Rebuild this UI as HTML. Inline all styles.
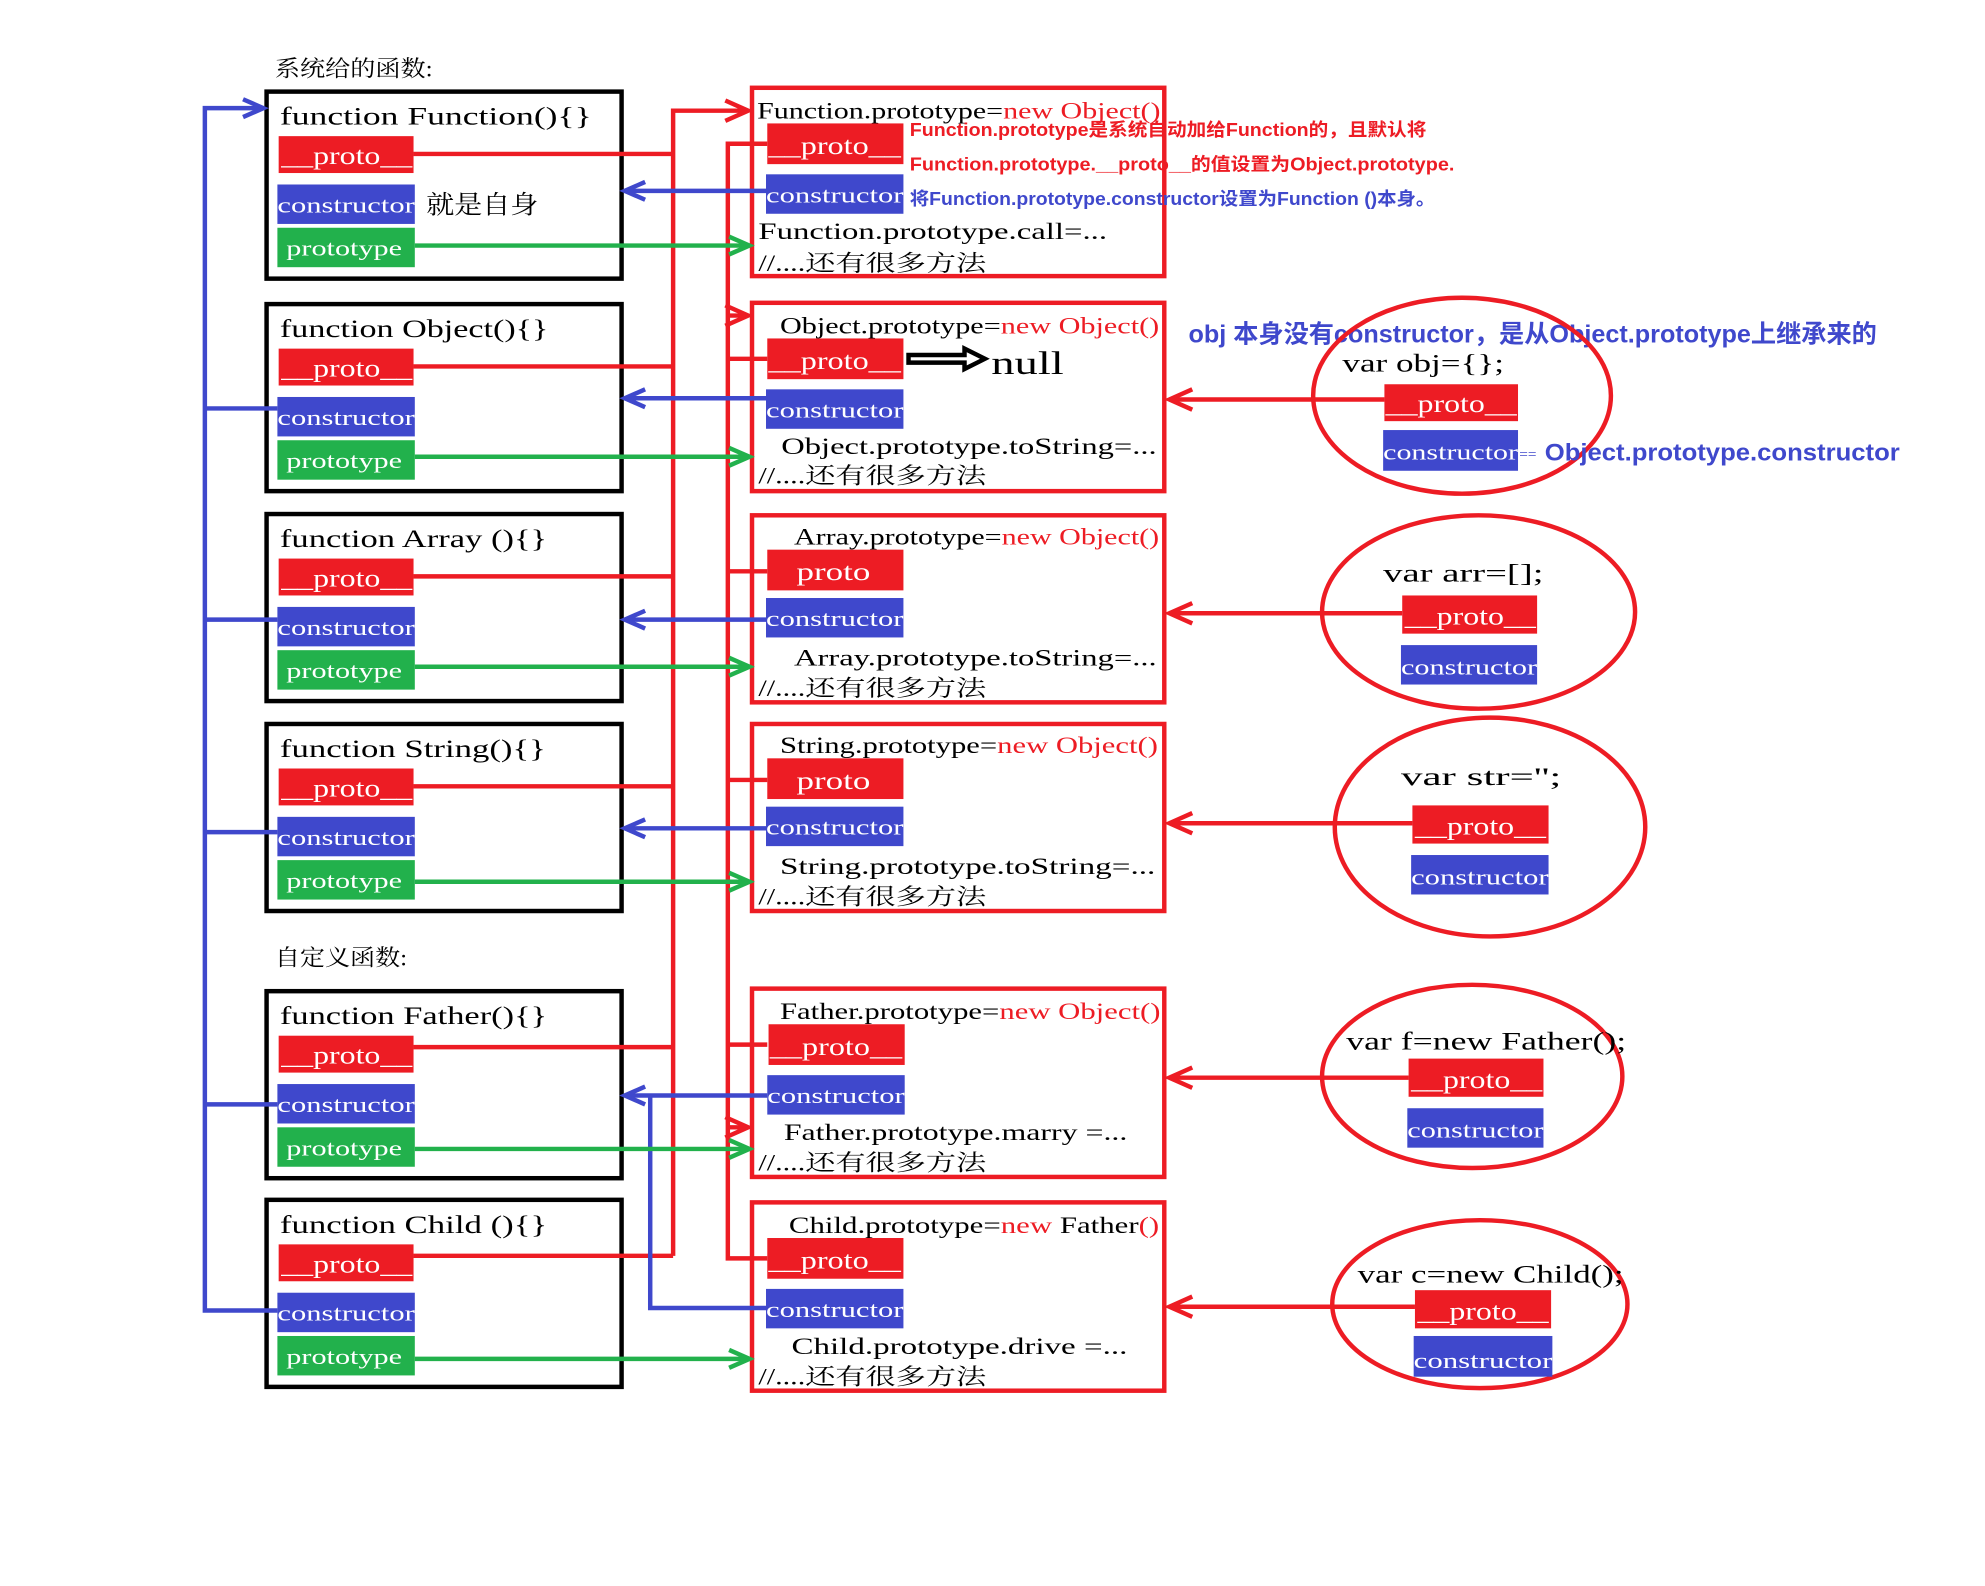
<!DOCTYPE html>
<html><head><meta charset="utf-8"><style>
html,body{margin:0;padding:0;background:#fff;width:1985px;height:1586px;overflow:hidden}
svg{display:block}
text{font-family:"Liberation Serif","Noto Serif CJK SC",serif;}
.t{font-size:20px;fill:#000}
.r{font-size:18px;fill:#000}
.w{fill:#fff;font-size:20px}
.ws{fill:#fff;font-size:17px}
.ann{font-family:"Liberation Sans","Noto Sans CJK SC",sans-serif;font-weight:bold}
</style></head><body>
<svg width="1985" height="1586" viewBox="0 0 1560 1246.5" preserveAspectRatio="none" xmlns="http://www.w3.org/2000/svg">
<defs>
<marker id="ar" markerUnits="userSpaceOnUse" markerWidth="24" markerHeight="20" refX="20" refY="10" orient="auto"><path d="M2,2 L20,10 L2,18" fill="none" stroke="#ed1c24" stroke-width="3.5"/></marker>
<marker id="ab" markerUnits="userSpaceOnUse" markerWidth="24" markerHeight="20" refX="20" refY="10" orient="auto"><path d="M4,3 L20,10 L4,17" fill="none" stroke="#3f48cc" stroke-width="3.5"/></marker>
<marker id="ag" markerUnits="userSpaceOnUse" markerWidth="24" markerHeight="20" refX="20" refY="10" orient="auto"><path d="M4,3 L20,10 L4,17" fill="none" stroke="#22b14c" stroke-width="3.5"/></marker>
</defs>

<text x="216" y="60" style="font-size:18px" textLength="124" lengthAdjust="spacingAndGlyphs">系统给的函数:</text>
<text x="216" y="759" style="font-size:18px" textLength="104" lengthAdjust="spacingAndGlyphs">自定义函数:</text>

<!-- left boxes -->
<g transform="translate(0,72)"><rect x="209.5" y="0" width="279" height="147" fill="none" stroke="#000" stroke-width="3.5"/><text class="t" x="220" y="26" textLength="245" lengthAdjust="spacingAndGlyphs">function Function(){}</text><rect x="219" y="35" width="106" height="29" fill="#ed1c24"/><text class="w" x="221" y="57" textLength="103" lengthAdjust="spacingAndGlyphs">__proto__</text><rect x="218" y="73" width="108" height="31" fill="#3f48cc"/><text class="ws" x="218" y="95" textLength="108" lengthAdjust="spacingAndGlyphs">constructor</text><rect x="218" y="107" width="108" height="31" fill="#22b14c"/><text class="ws" x="225" y="129" textLength="91" lengthAdjust="spacingAndGlyphs">prototype</text><text class="t" x="335" y="96" textLength="88" lengthAdjust="spacingAndGlyphs">就是自身</text></g>
<g transform="translate(0,239)"><rect x="209.5" y="0" width="279" height="147" fill="none" stroke="#000" stroke-width="3.5"/><text class="t" x="220" y="26" textLength="211" lengthAdjust="spacingAndGlyphs">function Object(){}</text><rect x="219" y="35" width="106" height="29" fill="#ed1c24"/><text class="w" x="221" y="57" textLength="103" lengthAdjust="spacingAndGlyphs">__proto__</text><rect x="218" y="73" width="108" height="31" fill="#3f48cc"/><text class="ws" x="218" y="95" textLength="108" lengthAdjust="spacingAndGlyphs">constructor</text><rect x="218" y="107" width="108" height="31" fill="#22b14c"/><text class="ws" x="225" y="129" textLength="91" lengthAdjust="spacingAndGlyphs">prototype</text></g>
<g transform="translate(0,404)"><rect x="209.5" y="0" width="279" height="147" fill="none" stroke="#000" stroke-width="3.5"/><text class="t" x="220" y="26" textLength="210" lengthAdjust="spacingAndGlyphs">function Array (){}</text><rect x="219" y="35" width="106" height="29" fill="#ed1c24"/><text class="w" x="221" y="57" textLength="103" lengthAdjust="spacingAndGlyphs">__proto__</text><rect x="218" y="73" width="108" height="31" fill="#3f48cc"/><text class="ws" x="218" y="95" textLength="108" lengthAdjust="spacingAndGlyphs">constructor</text><rect x="218" y="107" width="108" height="31" fill="#22b14c"/><text class="ws" x="225" y="129" textLength="91" lengthAdjust="spacingAndGlyphs">prototype</text></g>
<g transform="translate(0,569)"><rect x="209.5" y="0" width="279" height="147" fill="none" stroke="#000" stroke-width="3.5"/><text class="t" x="220" y="26" textLength="209" lengthAdjust="spacingAndGlyphs">function String(){}</text><rect x="219" y="35" width="106" height="29" fill="#ed1c24"/><text class="w" x="221" y="57" textLength="103" lengthAdjust="spacingAndGlyphs">__proto__</text><rect x="218" y="73" width="108" height="31" fill="#3f48cc"/><text class="ws" x="218" y="95" textLength="108" lengthAdjust="spacingAndGlyphs">constructor</text><rect x="218" y="107" width="108" height="31" fill="#22b14c"/><text class="ws" x="225" y="129" textLength="91" lengthAdjust="spacingAndGlyphs">prototype</text></g>
<g transform="translate(0,779)"><rect x="209.5" y="0" width="279" height="147" fill="none" stroke="#000" stroke-width="3.5"/><text class="t" x="220" y="26" textLength="210" lengthAdjust="spacingAndGlyphs">function Father(){}</text><rect x="219" y="35" width="106" height="29" fill="#ed1c24"/><text class="w" x="221" y="57" textLength="103" lengthAdjust="spacingAndGlyphs">__proto__</text><rect x="218" y="73" width="108" height="31" fill="#3f48cc"/><text class="ws" x="218" y="95" textLength="108" lengthAdjust="spacingAndGlyphs">constructor</text><rect x="218" y="107" width="108" height="31" fill="#22b14c"/><text class="ws" x="225" y="129" textLength="91" lengthAdjust="spacingAndGlyphs">prototype</text></g>
<g transform="translate(0,943)"><rect x="209.5" y="0" width="279" height="147" fill="none" stroke="#000" stroke-width="3.5"/><text class="t" x="220" y="26" textLength="210" lengthAdjust="spacingAndGlyphs">function Child (){}</text><rect x="219" y="35" width="106" height="29" fill="#ed1c24"/><text class="w" x="221" y="57" textLength="103" lengthAdjust="spacingAndGlyphs">__proto__</text><rect x="218" y="73" width="108" height="31" fill="#3f48cc"/><text class="ws" x="218" y="95" textLength="108" lengthAdjust="spacingAndGlyphs">constructor</text><rect x="218" y="107" width="108" height="31" fill="#22b14c"/><text class="ws" x="225" y="129" textLength="91" lengthAdjust="spacingAndGlyphs">prototype</text></g>

<!-- right boxes -->
<g transform="translate(0,68)"><rect x="591" y="1" width="324" height="148" fill="none" stroke="#ed1c24" stroke-width="3.5"/><text class="r" x="595" y="25" textLength="317" lengthAdjust="spacingAndGlyphs">Function.prototype=<tspan fill="#ed1c24">new Object()</tspan></text><rect x="603" y="29" width="107" height="32" fill="#ed1c24"/><text class="w" x="604" y="53" textLength="104" lengthAdjust="spacingAndGlyphs">__proto__</text><rect x="602" y="69" width="108" height="31" fill="#3f48cc"/><text class="ws" x="602" y="91" textLength="108" lengthAdjust="spacingAndGlyphs">constructor</text><text class="r" x="596" y="120" textLength="274" lengthAdjust="spacingAndGlyphs">Function.prototype.call=...</text><text class="r" x="596" y="145" textLength="179" lengthAdjust="spacingAndGlyphs">//....还有很多方法</text></g>
<g transform="translate(0,237)"><rect x="591" y="1" width="324" height="148" fill="none" stroke="#ed1c24" stroke-width="3.5"/><text class="r" x="613" y="25" textLength="298" lengthAdjust="spacingAndGlyphs">Object.prototype=<tspan fill="#ed1c24">new Object()</tspan></text><rect x="603" y="29" width="107" height="32" fill="#ed1c24"/><text class="w" x="604" y="53" textLength="104" lengthAdjust="spacingAndGlyphs">__proto__</text><rect x="602" y="69" width="108" height="31" fill="#3f48cc"/><text class="ws" x="602" y="91" textLength="108" lengthAdjust="spacingAndGlyphs">constructor</text><text class="r" x="614" y="120" textLength="295" lengthAdjust="spacingAndGlyphs">Object.prototype.toString=...</text><text class="r" x="596" y="143" textLength="179" lengthAdjust="spacingAndGlyphs">//....还有很多方法</text>
<text x="779" y="57" style="font-size:26px" textLength="57" lengthAdjust="spacingAndGlyphs">null</text>
<path d="M714,42 H758 V37 L774,45 L758,53 V48 H714 Z" fill="none" stroke="#000" stroke-width="3.5"/></g>
<g transform="translate(0,404)"><rect x="591" y="1" width="324" height="147" fill="none" stroke="#ed1c24" stroke-width="3.5"/><text class="r" x="624" y="24" textLength="287" lengthAdjust="spacingAndGlyphs">Array.prototype=<tspan fill="#ed1c24">new Object()</tspan></text><rect x="603" y="28" width="107" height="32" fill="#ed1c24"/><text class="w" x="626" y="52" textLength="58" lengthAdjust="spacingAndGlyphs">proto</text><rect x="602" y="66" width="108" height="31" fill="#3f48cc"/><text class="ws" x="602" y="88" textLength="108" lengthAdjust="spacingAndGlyphs">constructor</text><text class="r" x="624" y="119" textLength="285" lengthAdjust="spacingAndGlyphs">Array.prototype.toString=...</text><text class="r" x="596" y="143" textLength="179" lengthAdjust="spacingAndGlyphs">//....还有很多方法</text></g>
<g transform="translate(0,568)"><rect x="591" y="1" width="324" height="147" fill="none" stroke="#ed1c24" stroke-width="3.5"/><text class="r" x="613" y="24" textLength="297" lengthAdjust="spacingAndGlyphs">String.prototype=<tspan fill="#ed1c24">new Object()</tspan></text><rect x="603" y="28" width="107" height="32" fill="#ed1c24"/><text class="w" x="626" y="52" textLength="58" lengthAdjust="spacingAndGlyphs">proto</text><rect x="602" y="66" width="108" height="31" fill="#3f48cc"/><text class="ws" x="602" y="88" textLength="108" lengthAdjust="spacingAndGlyphs">constructor</text><text class="r" x="613" y="119" textLength="295" lengthAdjust="spacingAndGlyphs">String.prototype.toString=...</text><text class="r" x="596" y="143" textLength="179" lengthAdjust="spacingAndGlyphs">//....还有很多方法</text></g>
<g transform="translate(0,776)"><rect x="591" y="1" width="324" height="148" fill="none" stroke="#ed1c24" stroke-width="3.5"/><text class="r" x="613" y="25" textLength="299" lengthAdjust="spacingAndGlyphs">Father.prototype=<tspan fill="#ed1c24">new Object()</tspan></text><rect x="604" y="29" width="107" height="32" fill="#ed1c24"/><text class="w" x="605" y="53" textLength="104" lengthAdjust="spacingAndGlyphs">__proto__</text><rect x="603" y="69" width="108" height="31" fill="#3f48cc"/><text class="ws" x="603" y="91" textLength="108" lengthAdjust="spacingAndGlyphs">constructor</text><text class="r" x="616" y="120" textLength="270" lengthAdjust="spacingAndGlyphs">Father.prototype.marry =...</text><text class="r" x="596" y="144" textLength="179" lengthAdjust="spacingAndGlyphs">//....还有很多方法</text></g>
<g transform="translate(0,944)"><rect x="591" y="1" width="324" height="148" fill="none" stroke="#ed1c24" stroke-width="3.5"/><text class="r" x="620" y="25" textLength="291" lengthAdjust="spacingAndGlyphs">Child.prototype=<tspan fill="#ed1c24">new</tspan> Father<tspan fill="#ed1c24">()</tspan></text><rect x="603" y="29" width="107" height="32" fill="#ed1c24"/><text class="w" x="604" y="53" textLength="104" lengthAdjust="spacingAndGlyphs">__proto__</text><rect x="602" y="69" width="108" height="31" fill="#3f48cc"/><text class="ws" x="602" y="91" textLength="108" lengthAdjust="spacingAndGlyphs">constructor</text><text class="r" x="622" y="120" textLength="264" lengthAdjust="spacingAndGlyphs">Child.prototype.drive =...</text><text class="r" x="596" y="144" textLength="179" lengthAdjust="spacingAndGlyphs">//....还有很多方法</text></g>

<!-- annotations -->
<text class="ann" x="715" y="107" style="font-size:14.5px" fill="#ed1c24" textLength="406" lengthAdjust="spacingAndGlyphs">Function.prototype是系统自动加给Function的，且默认将</text>
<text class="ann" x="715" y="134" style="font-size:14.5px" fill="#ed1c24" textLength="428" lengthAdjust="spacingAndGlyphs">Function.prototype.__proto__的值设置为Object.prototype.</text>
<text class="ann" x="715" y="161" style="font-size:14.5px" fill="#3f48cc" textLength="413" lengthAdjust="spacingAndGlyphs">将Function.prototype.constructor设置为Function ()本身。</text>
<text class="ann" x="934" y="269" style="font-size:19.5px" fill="#3f48cc" textLength="541" lengthAdjust="spacingAndGlyphs">obj 本身没有constructor，是从Object.prototype上继承来的</text>

<!-- connectors: red -->
<g fill="none" stroke="#ed1c24" stroke-width="3.5">
<path d="M325,121 H529 M325,288 H529 M325,453 H529 M325,618 H529 M325,823 H529 M325,987 H529"/>
<path d="M529,987 V87 H588" marker-end="url(#ar)"/>
<path d="M603,113 H572 V989 H603 M603,282 H572 M603,449 H572 M603,613 H572 M603,821 H572"/>
<path d="M572,248 H588" marker-end="url(#ar)"/>
<path d="M572,886 H588" marker-end="url(#ar)"/>
<path d="M1088,314 H919" marker-end="url(#ar)"/>
<path d="M1102,482 H919" marker-end="url(#ar)"/>
<path d="M1110,647 H919" marker-end="url(#ar)"/>
<path d="M1107,847 H919" marker-end="url(#ar)"/>
<path d="M1112,1027 H919" marker-end="url(#ar)"/>
</g>
<!-- blue -->
<g fill="none" stroke="#3f48cc" stroke-width="3.5">
<path d="M218,1030 H161 V85 H207" marker-end="url(#ab)"/>
<path d="M161,321 H218 M161,487 H218 M161,654 H218 M161,868 H218"/>
<path d="M602,150 H491" marker-end="url(#ab)"/>
<path d="M602,313 H491" marker-end="url(#ab)"/>
<path d="M602,487 H491" marker-end="url(#ab)"/>
<path d="M602,651 H491" marker-end="url(#ab)"/>
<path d="M603,861 H491" marker-end="url(#ab)"/>
<path d="M602,1028 H511 V861"/>
</g>
<!-- green -->
<g fill="none" stroke="#22b14c" stroke-width="3.5">
<path d="M326,193 H589" marker-end="url(#ag)"/>
<path d="M326,359 H589" marker-end="url(#ag)"/>
<path d="M326,524 H589" marker-end="url(#ag)"/>
<path d="M326,693 H589" marker-end="url(#ag)"/>
<path d="M326,903 H589" marker-end="url(#ag)"/>
<path d="M326,1068 H589" marker-end="url(#ag)"/>
</g>

<!-- circles -->
<g fill="none" stroke="#ed1c24" stroke-width="3.5">
<ellipse cx="1149" cy="311" rx="117" ry="77"/>
<ellipse cx="1162" cy="481" rx="123" ry="76"/>
<ellipse cx="1171" cy="650" rx="122" ry="86"/>
<ellipse cx="1157" cy="846" rx="118" ry="72"/>
<ellipse cx="1163" cy="1025" rx="116" ry="66"/>
</g>
<text class="t" x="1055" y="292" textLength="127" lengthAdjust="spacingAndGlyphs">var obj={};</text>
<rect x="1088" y="302" width="105" height="29" fill="#ed1c24"/><text class="w" x="1089" y="324" textLength="103" lengthAdjust="spacingAndGlyphs">__proto__</text>
<rect x="1087" y="338" width="106" height="32" fill="#3f48cc"/><text class="ws" x="1087" y="361" textLength="106" lengthAdjust="spacingAndGlyphs">constructor</text>
<text x="1194" y="361" style="font-size:12px" fill="#3f48cc">==</text>
<text class="ann" x="1214" y="362" style="font-size:19px" fill="#3f48cc" textLength="279" lengthAdjust="spacingAndGlyphs">Object.prototype.constructor</text>

<text class="t" x="1087" y="457" textLength="126" lengthAdjust="spacingAndGlyphs">var arr=[];</text>
<rect x="1102" y="468" width="106" height="30" fill="#ed1c24"/><text class="w" x="1104" y="491" textLength="103" lengthAdjust="spacingAndGlyphs">__proto__</text>
<rect x="1101" y="507" width="107" height="31" fill="#3f48cc"/><text class="ws" x="1101" y="530" textLength="107" lengthAdjust="spacingAndGlyphs">constructor</text>

<text class="t" x="1101" y="617" textLength="126" lengthAdjust="spacingAndGlyphs">var str='';</text>
<rect x="1110" y="633" width="107" height="30" fill="#ed1c24"/><text class="w" x="1112" y="656" textLength="103" lengthAdjust="spacingAndGlyphs">__proto__</text>
<rect x="1109" y="672" width="108" height="31" fill="#3f48cc"/><text class="ws" x="1109" y="695" textLength="108" lengthAdjust="spacingAndGlyphs">constructor</text>

<text class="t" x="1058" y="825" textLength="220" lengthAdjust="spacingAndGlyphs">var f=new Father();</text>
<rect x="1107" y="832" width="106" height="30" fill="#ed1c24"/><text class="w" x="1109" y="855" textLength="103" lengthAdjust="spacingAndGlyphs">__proto__</text>
<rect x="1106" y="871" width="107" height="31" fill="#3f48cc"/><text class="ws" x="1106" y="894" textLength="107" lengthAdjust="spacingAndGlyphs">constructor</text>

<text class="t" x="1067" y="1008" textLength="209" lengthAdjust="spacingAndGlyphs">var c=new Child();</text>
<rect x="1112" y="1014" width="107" height="30" fill="#ed1c24"/><text class="w" x="1114" y="1037" textLength="103" lengthAdjust="spacingAndGlyphs">__proto__</text>
<rect x="1111" y="1050" width="109" height="32" fill="#3f48cc"/><text class="ws" x="1111" y="1075" textLength="109" lengthAdjust="spacingAndGlyphs">constructor</text>
</svg>
</body></html>
